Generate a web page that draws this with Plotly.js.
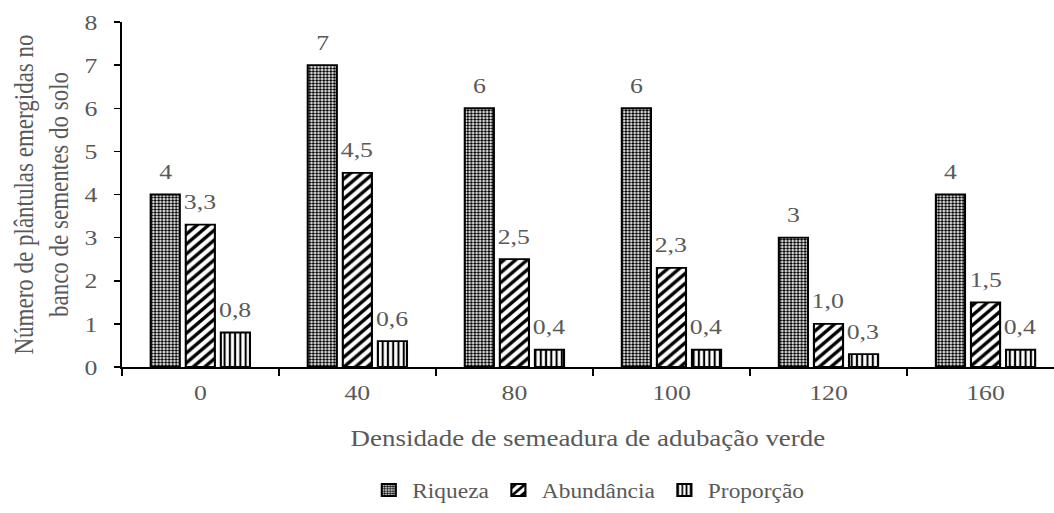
<!DOCTYPE html>
<html>
<head>
<meta charset="utf-8">
<script src="https://cdn.plot.ly/plotly-3.0.1.min.js"></script>
<style>
  html, body { margin: 0; padding: 0; background: #ffffff; overflow: hidden; }
  /* the chart is laid out narrower and widened, giving the wide serif lettering */
  #chart { width: 900px; height: 513px; transform: scaleX(1.17111); transform-origin: 0 0; }
</style>
</head>
<body>
<div id="chart"></div>
<script>
// Densidade de semeadura (kg/ha) e contagens de plântulas
const categories = ['0', '40', '80', '100', '120', '160'];
const riqueza = [4, 7, 6, 6, 3, 4];
const abundancia = [3.3, 4.5, 2.5, 2.3, 1.0, 1.5];
const proporcao = [0.8, 0.6, 0.4, 0.4, 0.3, 0.4];
const seriesNames = ['Riqueza', 'Abundância', 'Proporção'];

const FONT = '"Liberation Serif", "Times New Roman", serif';
const TXT = '#595959';
const BARGAP = 0.33;

function barTrace(name, values, pattern) {
  return {
    type: 'bar',
    name: name,
    x: categories,
    y: values,
    marker: {
      color: '#ffffff',
      line: { color: '#000000', width: 1.8 },
      pattern: Object.assign({ fgcolor: '#000000', bgcolor: '#ffffff', fillmode: 'replace' }, pattern)
    },
    hoverinfo: 'x+y+name'
  };
}

const traces = [
  barTrace(seriesNames[0], riqueza, { shape: '.', size: 3, solidity: 0.55 }),
  barTrace(seriesNames[1], abundancia, { shape: '/', size: 7, solidity: 0.45 }),
  barTrace(seriesNames[2], proporcao, { shape: '|', size: 4.5, solidity: 0.4 })
];

// Value labels above each bar; each series sits one bar slot apart in the group
const slot = (1 - BARGAP) / 3;
const labelFmt = [v => String(v), v => v.toFixed(1).replace('.', ','), v => v.toFixed(1).replace('.', ',')];
const annotations = [];
[riqueza, abundancia, proporcao].forEach((vals, s) => {
  vals.forEach((v, i) => {
    annotations.push({
      x: i + (s - 1) * slot, y: v, xref: 'x', yref: 'y',
      text: labelFmt[s](v), showarrow: false,
      yshift: 23, yanchor: 'middle',
      font: { family: FONT, size: 22, color: TXT }
    });
  });
});

const layout = {
  width: 900, height: 513,
  margin: { l: 104, r: 0, t: 22, b: 146, autoexpand: false },
  paper_bgcolor: '#ffffff', plot_bgcolor: '#ffffff',
  font: { family: FONT, color: TXT, size: 22 },
  separators: ',.',
  barmode: 'group',
  bargap: BARGAP,
  bargroupgap: 0.17,
  showlegend: true,
  legend: {
    orientation: 'h', x: 0.5, xanchor: 'center', y: -0.30, yanchor: 'top',
    font: { family: FONT, size: 20, color: TXT },
    itemwidth: 30
  },
  xaxis: {
    type: 'category',
    range: [-0.5, 5.436],
    automargin: false,
    showline: true, linecolor: '#000000', linewidth: 1.5,
    ticks: 'outside', tickson: 'boundaries', ticklen: 7, tickwidth: 1.5, tickcolor: '#000000',
    ticklabelstandoff: 5,
    showgrid: false, zeroline: false,
    tickfont: { family: FONT, size: 22, color: TXT },
    title: { text: 'Densidade de semeadura de adubação verde', font: { family: FONT, size: 23, color: TXT }, standoff: 26 }
  },
  yaxis: {
    range: [0, 8], dtick: 1,
    automargin: false,
    showline: true, linecolor: '#000000', linewidth: 1.5,
    ticks: 'outside', ticklen: 5, tickwidth: 1.5, tickcolor: '#000000',
    ticklabelstandoff: 10,
    showgrid: false, zeroline: false,
    tickfont: { family: FONT, size: 22, color: TXT },
    title: { text: 'Número de plântulas emergidas no<br>banco de sementes do solo', font: { family: FONT, size: 23, color: TXT }, standoff: 7 }
  },
  annotations: annotations
};

Plotly.newPlot('chart', traces, layout, { displayModeBar: false, staticPlot: true });
</script>
</body>
</html>
